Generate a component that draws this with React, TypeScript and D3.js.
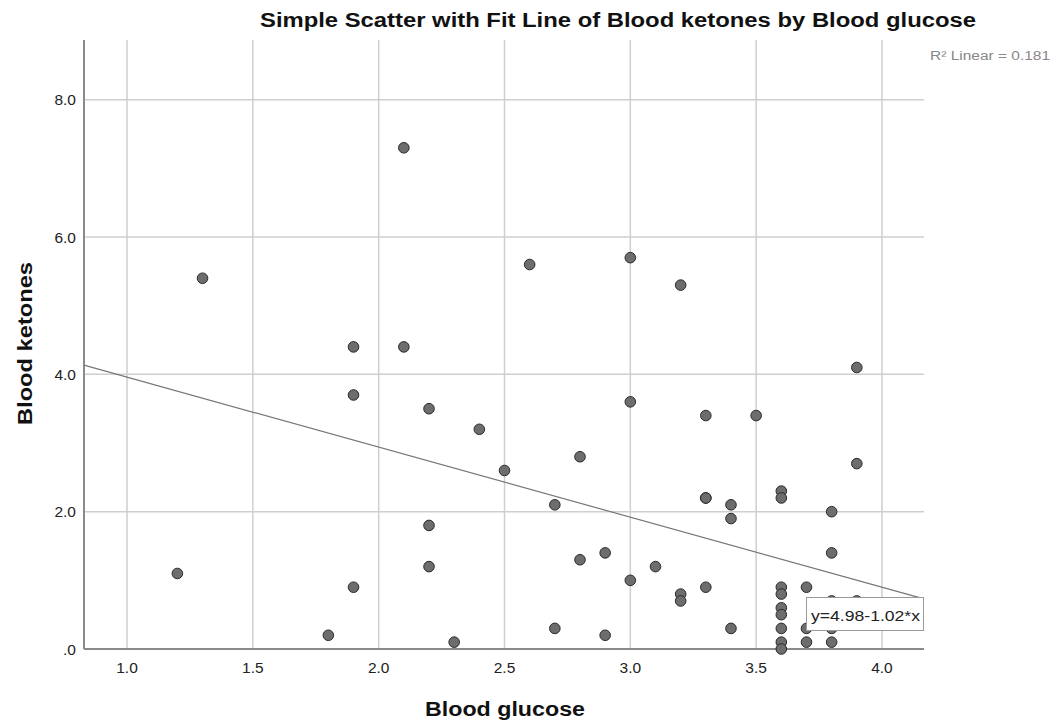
import React from "react";
import * as d3 from "d3";

const glucose = [
  1.2, 1.3, 1.8, 1.9, 1.9, 1.9, 2.1, 2.1, 2.2, 2.2, 2.2, 2.3, 2.4, 2.5, 2.6, 2.7, 2.7, 2.8, 2.8, 2.9, 2.9,
  3.0, 3.0, 3.0, 3.1, 3.2, 3.2, 3.2, 3.3, 3.3, 3.3, 3.3, 3.4, 3.4, 3.4, 3.5,
  3.6, 3.6, 3.6, 3.6, 3.6, 3.6, 3.6, 3.6, 3.6,
  3.7, 3.7, 3.7, 3.8, 3.8, 3.8, 3.8, 3.8, 3.9, 3.9, 3.9,
];
const ketones = [
  1.1, 5.4, 0.2, 4.4, 3.7, 0.9, 7.3, 4.4, 3.5, 1.8, 1.2, 0.1, 3.2, 2.6, 5.6, 2.1, 0.3, 2.8, 1.3, 1.4, 0.2,
  5.7, 3.6, 1.0, 1.2, 5.3, 0.8, 0.7, 3.4, 2.2, 2.2, 0.9, 2.1, 1.9, 0.3, 3.4,
  2.3, 2.2, 0.9, 0.8, 0.6, 0.5, 0.3, 0.1, 0.0,
  0.9, 0.3, 0.1, 2.0, 1.4, 0.7, 0.3, 0.1, 4.1, 2.7, 0.7,
];
const xTicks = [1.0, 1.5, 2.0, 2.5, 3.0, 3.5, 4.0];
const yTicks = [0, 2, 4, 6, 8];
const fitIntercept = 4.98;
const fitSlope = -1.02;
const rSquared = "0.181";

const title = "Simple Scatter with Fit Line of Blood ketones by Blood glucose";
const xLabel = "Blood glucose";
const yLabel = "Blood ketones";

export default function App() {
  const W = 1054, H = 724;
  const left = 84, right = 924, top = 40, bottom = 649;
  const x = d3.scaleLinear().domain([0.829, 4.167]).range([left, right]);
  const y = d3.scaleLinear().domain([0, 8.87]).range([bottom, top]);
  const [x0, x1] = x.domain();
  const line = d3.line<number>().x((d) => x(d)).y((d) => y(fitIntercept + fitSlope * d));
  const font = "'Liberation Sans', Arial, sans-serif";
  const fmtY = (v: number) => (v === 0 ? ".0" : v.toFixed(1));
  const grid = "#cfcfcf";
  return (
    <svg width={W} height={H} style={{ position: "absolute", left: 0, top: 0, background: "#fff" }} fontFamily={font}>
      <rect x={0} y={0} width={W} height={H} fill="#fff" />
      {xTicks.map((t) => (
        <line key={"gx" + t} x1={x(t)} x2={x(t)} y1={top} y2={bottom} stroke={grid} strokeWidth={1.5} />
      ))}
      {yTicks.filter((t) => t > 0).map((t) => (
        <line key={"gy" + t} x1={left} x2={right} y1={y(t)} y2={y(t)} stroke={grid} strokeWidth={1.5} />
      ))}
      <line x1={left} x2={left} y1={top} y2={bottom} stroke="#8a8a8a" strokeWidth={2} />
      <line x1={left} x2={right} y1={bottom} y2={bottom} stroke="#8a8a8a" strokeWidth={2} />
      {xTicks.map((t) => (
        <text key={"tx" + t} x={x(t)} y={673} textAnchor="middle" fontSize={15.5} fill="#222">
          {t.toFixed(1)}
        </text>
      ))}
      {yTicks.map((t) => (
        <text key={"ty" + t} x={76} y={y(t) + 5.5} textAnchor="end" fontSize={15.5} fill="#222">
          {fmtY(t)}
        </text>
      ))}
      <path d={line([x0, x1]) || ""} fill="none" stroke="#777" strokeWidth={1.2} />
      {glucose.map((g, i) => (
        <circle key={"p" + i} cx={x(g)} cy={y(ketones[i])} r={5.3} fill="#6d6d6d" stroke="#2a2a2a" strokeWidth={1} />
      ))}
      <rect x={806.5} y={597.5} width={117} height={33} fill="#fff" stroke="#999" strokeWidth={1} />
      <text x={811} y={621} fontSize={15} fill="#222" textLength={109} lengthAdjust="spacingAndGlyphs">y=4.98-1.02*x</text>
      <text x={930} y={60} fontSize={12} fill="#888" textLength={120} lengthAdjust="spacingAndGlyphs">{"R\u00B2 Linear = " + rSquared}</text>
      <text x={260} y={27} fontSize={20} fontWeight="bold" fill="#111" textLength={716} lengthAdjust="spacingAndGlyphs">{title}</text>
      <text x={425} y={716} fontSize={20} fontWeight="bold" fill="#111" textLength={160} lengthAdjust="spacingAndGlyphs">{xLabel}</text>
      <text transform={`translate(32,${425}) rotate(-90)`} fontSize={20} fontWeight="bold" fill="#111" textLength={163} lengthAdjust="spacingAndGlyphs">
        {yLabel}
      </text>
    </svg>
  );
}
